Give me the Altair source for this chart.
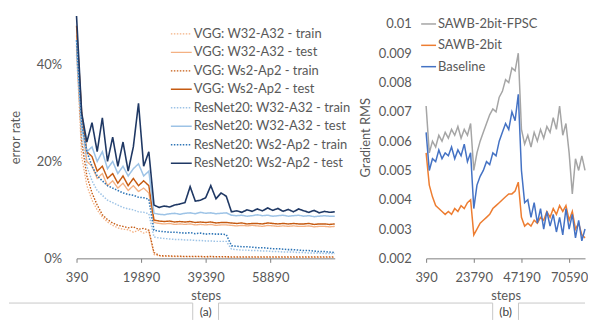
import altair as alt
import pandas as pd

FONT = "Lato"
TXT = "#595959"

# ---------------- data ----------------
steps = [390 + 1560 * k for k in range(51)]
left_ticks = [390, 19890, 39390, 58890]
right_ticks = [390, 23790, 47190, 70590]
left_yticks = [0, 20, 40]
right_yticks = [0.002, 0.003, 0.004, 0.005, 0.006, 0.007, 0.008, 0.009, 0.01]

left_names = [
    "VGG: W32-A32 - train", "VGG: W32-A32 - test",
    "VGG: Ws2-Ap2 - train", "VGG: Ws2-Ap2 - test",
    "ResNet20: W32-A32 - train", "ResNet20: W32-A32 - test",
    "ResNet20: Ws2-Ap2 - train", "ResNet20: Ws2-Ap2 - test",
]
# error rate (%)
vgg_w32_train = [43, 21, 15, 12, 10, 8.5, 7.5, 6.8, 6.3, 6.0, 5.9, 5.4, 5.8, 5.2, 5.6,
                 0.8, 0.5, 0.4, 0.4, 0.35, 0.35, 0.3, 0.3, 0.3, 0.3, 0.25, 0.3, 0.25, 0.25, 0.25,
                 0.2, 0.2, 0.2, 0.2, 0.2, 0.2, 0.2, 0.2, 0.2, 0.2, 0.2, 0.2, 0.2, 0.2, 0.2, 0.2,
                 0.2, 0.2, 0.2, 0.2, 0.2]
vgg_w32_test = [46, 28, 20, 19, 16.5, 17.5, 15, 16, 14.5, 15.5, 14, 15, 13.8, 14.5, 13.5,
                7.4, 7.2, 7.1, 7.2, 7.0, 7.1, 7.0, 7.1, 6.9, 7.0, 6.9, 7.0, 6.8, 6.9, 6.9,
                6.8, 6.7, 6.8, 6.7, 6.8, 6.7, 6.6, 6.8, 6.7, 6.6, 6.7, 6.6, 6.7, 6.6, 6.6, 6.7,
                6.5, 6.6, 6.6, 6.5, 6.6]
vgg_ws2_train = [44, 24, 17, 13.5, 11, 9, 8, 7.3, 6.8, 6.6, 6.3, 6.5, 6.0, 6.2, 5.8,
                 1.2, 0.6, 0.5, 0.5, 0.45, 0.45, 0.4, 0.4, 0.4, 0.4, 0.35, 0.4, 0.35, 0.35, 0.35,
                 0.3, 0.3, 0.3, 0.3, 0.3, 0.3, 0.3, 0.3, 0.3, 0.3, 0.3, 0.3, 0.3, 0.3, 0.3, 0.3,
                 0.3, 0.3, 0.3, 0.3, 0.3]
vgg_ws2_test = [48, 30, 22, 21, 18, 19, 16.5, 17.5, 15.5, 17, 15, 16.5, 15, 16, 15,
                7.9, 7.7, 7.6, 7.7, 7.5, 7.6, 7.5, 7.6, 7.4, 7.5, 7.4, 7.5, 7.3, 7.4, 7.4,
                7.3, 7.2, 7.3, 7.1, 7.2, 7.2, 7.1, 7.3, 7.2, 7.1, 7.2, 7.1, 7.2, 7.1, 7.1, 7.2,
                7.0, 7.1, 7.1, 7.0, 7.1]
res_w32_train = [42, 25, 19, 16, 14, 13, 12, 11.5, 11, 10.5, 10.2, 10, 9.6, 9.5, 9.2,
                 4.4, 4.2, 4.1, 4.0, 3.9, 3.9, 3.8, 3.8, 3.7, 3.7, 3.6, 3.6, 3.5, 3.5, 3.5,
                 1.9, 1.8, 1.7, 1.7, 1.6, 1.6, 1.5, 1.5, 1.4, 1.4, 1.3, 1.3, 1.3, 1.2, 1.2, 1.1,
                 1.1, 1.1, 1.0, 1.0, 1.0]
res_w32_test = [45, 27, 22, 23, 20, 22, 18.5, 20, 17.5, 19, 17, 18.5, 19.5, 17, 18,
                9.3, 9.1, 9.0, 9.2, 9.3, 9.1, 9.3, 9.4, 9.2, 9.5, 9.3, 9.4, 9.2, 9.3, 9.4,
                8.9, 8.8, 8.9, 8.7, 8.8, 9.0, 8.8, 8.9, 8.7, 8.8, 8.9, 8.7, 8.8, 8.9, 8.7, 8.8,
                8.6, 8.7, 8.8, 8.7, 8.7]
res_ws2_train = [45, 28, 22, 19, 17, 16, 15, 14.5, 14, 13.5, 13.2, 13, 12.6, 12.5, 12.2,
                 5.8, 5.6, 5.5, 5.4, 5.4, 5.3, 5.2, 5.3, 5.1, 5.2, 5.0, 5.1, 5.0, 5.0, 4.9,
                 2.6, 2.5, 2.4, 2.4, 2.3, 2.2, 2.2, 2.1, 2.0, 2.0, 1.9, 1.8, 1.8, 1.7, 1.6, 1.6,
                 1.5, 1.4, 1.4, 1.3, 1.2]
res_ws2_test = [50, 30, 24, 28, 22, 29, 20, 25, 19, 24, 18, 23, 32, 19, 22,
                11, 10.5, 10.8, 10.6, 11, 11.2, 11.5, 14.8, 11.8, 12, 12.5, 15, 12.3, 13.5, 12.8,
                9.6, 9.8, 9.5, 10, 9.7, 10.2, 9.8, 10.4, 9.9, 10.3, 9.7, 10.1, 9.6, 10.2, 9.8, 9.5,
                9.9, 9.4, 9.7, 9.5, 9.6]
left_values = [vgg_w32_train, vgg_w32_test, vgg_ws2_train, vgg_ws2_test,
               res_w32_train, res_w32_test, res_ws2_train, res_ws2_test]

right_names = ["SAWB-2bit-FPSC", "SAWB-2bit", "Baseline"]
fpsc = [0.0072, 0.0056, 0.0060, 0.0058, 0.0062, 0.0060, 0.0063, 0.0061, 0.0064, 0.0062,
        0.0065, 0.0061, 0.0064, 0.0062, 0.0066, 0.0050, 0.0056, 0.0060, 0.0063, 0.0066,
        0.0069, 0.0071, 0.0070, 0.0075, 0.0077, 0.0081, 0.0080, 0.0085, 0.0084, 0.0090,
        0.0064, 0.0059, 0.0062, 0.0058, 0.0063, 0.0060, 0.0064, 0.0061, 0.0065, 0.0063,
        0.0068, 0.0064, 0.0072, 0.0062, 0.0066, 0.0056, 0.0042, 0.0054, 0.0050, 0.0055, 0.0050]
sawb = [0.0056, 0.0045, 0.0041, 0.0038, 0.0037, 0.0036, 0.0035, 0.0036, 0.0035, 0.0037,
        0.0036, 0.0038, 0.0037, 0.0039, 0.0040, 0.0028, 0.0030, 0.0032, 0.0033, 0.0034,
        0.0035, 0.0037, 0.0038, 0.0039, 0.0040, 0.0041, 0.0042, 0.0042, 0.0043, 0.0046,
        0.0034, 0.0031, 0.0032, 0.0031, 0.0033, 0.0032, 0.0034, 0.0033, 0.0036, 0.0034,
        0.0037, 0.0035, 0.0038, 0.0036, 0.0038, 0.0033, 0.0036, 0.0030, 0.0032, 0.0028, 0.0027]
baseline = [0.0063, 0.0050, 0.0054, 0.0053, 0.0057, 0.0054, 0.0056, 0.0055, 0.0058, 0.0054,
            0.0057, 0.0055, 0.0059, 0.0053, 0.0056, 0.0037, 0.0045, 0.0048, 0.0050, 0.0053,
            0.0052, 0.0056, 0.0055, 0.0060, 0.0063, 0.0066, 0.0064, 0.0070, 0.0067, 0.0076,
            0.0050, 0.0039, 0.0040, 0.0034, 0.0039, 0.0032, 0.0037, 0.0030, 0.0036, 0.0031,
            0.0035, 0.0029, 0.0034, 0.0028, 0.0037, 0.0030, 0.0035, 0.0027, 0.0033, 0.0026, 0.0030]
right_values = [fpsc, sawb, baseline]

# ---------------- styles ----------------
left_colors = ["#f4b183", "#f4b183", "#c55a11", "#c55a11",
               "#9dc3e6", "#9dc3e6", "#2e75b6", "#1f3864"]
DOT = [1.5, 1.5]
SOLID = [1, 0]
left_dash = [DOT, SOLID, DOT, SOLID, DOT, SOLID, DOT, SOLID]
left_width = [1.3, 1.6, 1.3, 1.8, 1.3, 1.6, 1.3, 2.0]
right_colors = ["#a5a5a5", "#ed7d31", "#4472c4"]

rows = []
for name, vals in zip(left_names, left_values):
    for s, v in zip(steps, vals):
        rows.append({"series": name, "step": s, "err": v})
df_left = pd.DataFrame(rows)

rows = []
for name, vals in zip(right_names, right_values):
    for s, v in zip(steps, vals):
        rows.append({"series": name, "step": s, "rms": v})
df_right = pd.DataFrame(rows)

leg_left = pd.DataFrame({"series": left_names, "idx": list(range(len(left_names)))})
leg_right = pd.DataFrame({"series": right_names, "idx": list(range(len(right_names)))})
one = pd.DataFrame({"a": [0]})

W_L, W_R, H = 260, 160, 244

lcolor = alt.Scale(domain=left_names, range=left_colors)
ldash = alt.Scale(domain=left_names, range=left_dash)
lwidth = alt.Scale(domain=left_names, range=left_width)
rcolor = alt.Scale(domain=right_names, range=right_colors)

def xaxis(vals):
    return alt.Axis(values=vals, format="d", title="steps", grid=False, domainColor="#7f7f7f",
                    tickColor="#7f7f7f", tickSize=4, labelPadding=9, titlePadding=5,
                    labelFlush=False, labelOverlap=False)

xs = alt.Scale(domain=[390, 78390], nice=False, zero=False)

left_lines = alt.Chart(df_left).mark_line().encode(
    x=alt.X("step:Q", scale=xs, axis=xaxis(left_ticks)),
    y=alt.Y("err:Q", scale=alt.Scale(domain=[0, 50], nice=False),
            axis=alt.Axis(values=left_yticks, labelExpr="datum.value + '%'", domain=False,
                          ticks=False, grid=False, labelPadding=15, title="error rate",
                          titlePadding=14)),
    color=alt.Color("series:N", scale=lcolor, legend=None),
    strokeDash=alt.StrokeDash("series:N", scale=ldash, legend=None),
    strokeWidth=alt.StrokeWidth("series:N", scale=lwidth, legend=None),
)

left_leg_sym = alt.Chart(leg_left).transform_calculate(py="18 + 18.6 * datum.idx").mark_rule().encode(
    x=alt.value(95), x2=alt.value(116),
    y=alt.Y("py:Q", scale=None, axis=None),
    color=alt.Color("series:N", scale=lcolor, legend=None),
    strokeDash=alt.StrokeDash("series:N", scale=ldash, legend=None),
    strokeWidth=alt.StrokeWidth("series:N", scale=lwidth, legend=None),
)
left_leg_txt = alt.Chart(leg_left).transform_calculate(py="18 + 18.6 * datum.idx").mark_text(
    align="left", baseline="middle", font=FONT, fontSize=13, color=TXT
).encode(
    x=alt.value(118),
    y=alt.Y("py:Q", scale=None, axis=None),
    text="series:N",
)

# decorative frame (figure table borders) and sub-captions, pixel positions relative to left plot
def seg(x1, x2, y1, y2):
    return alt.Chart(one).mark_rule(color="#c8c8c8", strokeWidth=1).encode(
        x=alt.value(x1), x2=alt.value(x2), y=alt.value(y1), y2=alt.value(y2))

frame = [
    seg(-68, 117, 289, 289), seg(117, 117, 289, 306),
    seg(143, 143, 289, 306), seg(143, 419, 289, 289),
    seg(419, 419, 289, 306), seg(445, 445, 289, 306),
    seg(445, 512, 289, 289),
]
cap_a = alt.Chart(one).mark_text(font=FONT, fontSize=12, color="#404040").encode(
    x=alt.value(130), y=alt.value(298), text=alt.value("(a)"))
cap_b = alt.Chart(one).mark_text(font=FONT, fontSize=12, color="#404040").encode(
    x=alt.value(432), y=alt.value(298), text=alt.value("(b)"))

left = alt.layer(left_lines, left_leg_sym, left_leg_txt, *frame, cap_a, cap_b).properties(
    width=W_L, height=H)

right_lines = alt.Chart(df_right).mark_line(strokeWidth=1.5).encode(
    x=alt.X("step:Q", scale=xs, axis=xaxis(right_ticks)),
    y=alt.Y("rms:Q", scale=alt.Scale(domain=[0.002, 0.01027], nice=False, zero=False),
            axis=alt.Axis(values=right_yticks, format="~g", domain=False, ticks=False,
                          grid=False, labelPadding=15, title="Gradient RMS", titlePadding=6)),
    color=alt.Color("series:N", scale=rcolor, legend=None),
)
right_leg_sym = alt.Chart(leg_right).transform_calculate(py="8 + 21.5 * datum.idx").mark_rule(
    strokeWidth=1.5).encode(
    x=alt.value(-5), x2=alt.value(10),
    y=alt.Y("py:Q", scale=None, axis=None),
    color=alt.Color("series:N", scale=rcolor, legend=None),
)
right_leg_txt = alt.Chart(leg_right).transform_calculate(py="8 + 21.5 * datum.idx").mark_text(
    align="left", baseline="middle", font=FONT, fontSize=13, color=TXT
).encode(
    x=alt.value(12),
    y=alt.Y("py:Q", scale=None, axis=None),
    text="series:N",
)
right = alt.layer(right_lines, right_leg_sym, right_leg_txt).properties(width=W_R, height=H)

chart = alt.hconcat(left, right, spacing=92, bounds="flush").properties(
    padding={"left": 0, "top": 3, "right": 0, "bottom": 0}
).resolve_scale(color="independent").configure_view(stroke=None).configure_axis(
    labelFont=FONT, titleFont=FONT, labelFontSize=13, titleFontSize=13,
    labelColor=TXT, titleColor=TXT, titleFontWeight="normal"
)

chart.save("out.html", embed_options={"renderer": "svg", "actions": False})
